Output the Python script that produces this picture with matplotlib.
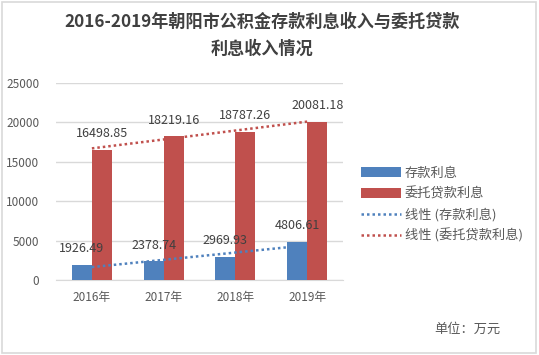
import numpy as np
import matplotlib
matplotlib.use("Agg")
import matplotlib.pyplot as plt
from matplotlib.patches import Rectangle

plt.rcParams['font.family'] = ['Noto Sans CJK SC', 'DejaVu Sans']

years = ["2016年", "2017年", "2018年", "2019年"]
deposit = [1926.49, 2378.74, 2969.93, 4806.61]
entrust = [16498.85, 18219.16, 18787.26, 20081.18]
yticks = [0, 5000, 10000, 15000, 20000, 25000]

blue = "#4F81BD"
red = "#C0504D"
text_gray = "#595959"

fig = plt.figure(figsize=(5.39, 3.55), dpi=100)
fig.patches.append(Rectangle((0.004, 0.006), 0.99, 0.988, transform=fig.transFigure,
                             fill=False, edgecolor="#D9D9D9", linewidth=1.2))

ax = fig.add_axes([0.1039, 0.2113, 0.5325, 0.555])
x = np.arange(len(years))
w = 0.28
b1 = ax.bar(x - w / 2, deposit, w, color=blue, label="存款利息", zorder=3)
b2 = ax.bar(x + w / 2, entrust, w, color=red, label="委托贷款利息", zorder=3)

# linear trendlines like excel
lines = []
for vals, col, name in [(deposit, blue, "线性 (存款利息)"), (entrust, red, "线性 (委托贷款利息)")]:
    k, c = np.polyfit(x, vals, 1)
    ln, = ax.plot(x, k * x + c, color=col, linestyle=(0, (1, 1.2)), linewidth=1.8,
                  label=name, zorder=4)
    lines.append(ln)

for bars, vals in [(b1, deposit), (b2, entrust)]:
    for r, v in zip(bars, vals):
        ax.annotate(f"{v:.2f}", (r.get_x() + r.get_width() / 2, v), xytext=(0, 7),
                    textcoords="offset points", ha="center", va="bottom",
                    fontsize=9, color="#404040", zorder=5)

ax.set_xlim(-0.5, 3.5)
ax.set_ylim(0, 25000)
ax.set_yticks(yticks)
ax.set_yticklabels([str(t) for t in yticks])
ax.set_xticks(x)
ax.set_xticklabels(years)
ax.tick_params(axis="both", length=0, labelsize=8.5, labelcolor=text_gray)
ax.tick_params(axis="y", pad=12)
ax.tick_params(axis="x", pad=8)
ax.grid(axis="y", color="#D9D9D9", linewidth=1, zorder=0)
for s in ["top", "right", "left"]:
    ax.spines[s].set_visible(False)
ax.spines["bottom"].set_color("#D9D9D9")

fig.text(0.487, 0.9, "2016-2019年朝阳市公积金存款利息收入与委托贷款\n利息收入情况",
         ha="center", va="center", fontsize=12.3, fontweight="bold", color="#404040",
         linespacing=1.6)

handles = [b1, b2] + lines
leg = fig.legend(handles, [h.get_label() for h in handles], loc="upper left",
                 bbox_to_anchor=(0.66, 0.545), frameon=False,
                 fontsize=9.5, handlelength=3.0, handleheight=0.75, labelspacing=0.55,
                 handletextpad=0.3, borderaxespad=0)
for t in leg.get_texts():
    t.set_color(text_gray)

fig.text(0.928, 0.073, "单位：万元", ha="right", va="center", fontsize=9.5, color=text_gray)

fig.savefig("out.png", dpi=100)
